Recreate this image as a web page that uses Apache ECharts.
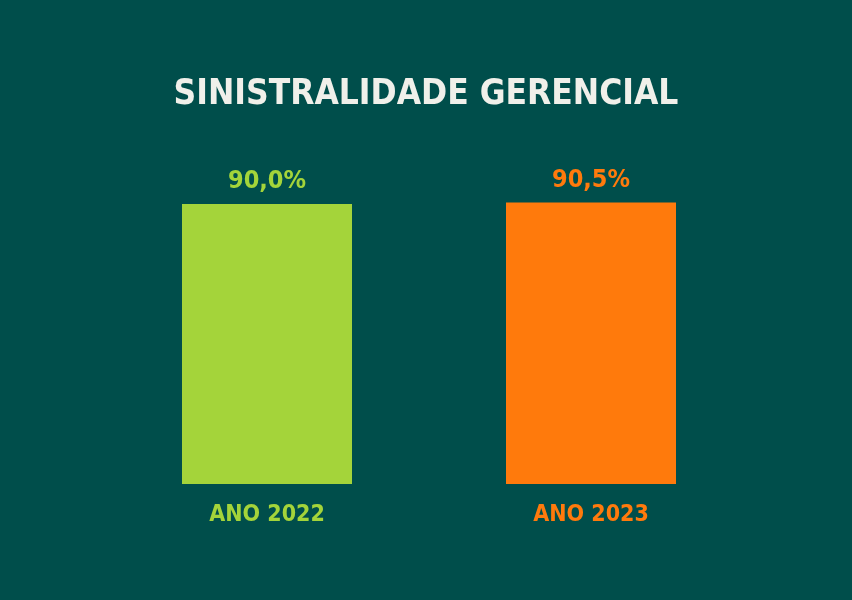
<!DOCTYPE html>
<html>
<head>
<meta charset="utf-8">
<script src="https://cdn.jsdelivr.net/npm/echarts@6/dist/echarts.min.js"></script>
<style>html,body{margin:0;padding:0;background:#004E4B;}#c{width:852px;height:600px;}</style>
</head>
<body>
<div id="c"></div>
<script>
const categories = ['ANO 2022', 'ANO 2023'];
const values = [90.0, 90.5];
const labels = ['90,0%', '90,5%'];
const colors = ['#A4D43A', '#FF7A0C'];
const titleText = 'SINISTRALIDADE GERENCIAL';

const FONT = '"DejaVu Sans Condensed", "Noto Sans", sans-serif';
const chart = echarts.init(document.getElementById('c'));
chart.setOption({
  backgroundColor: '#004E4B',
  title: {
    text: titleText,
    left: 'center',
    top: 72,
    textStyle: { color: '#F0F0EA', fontSize: 35, fontWeight: 'bold', fontFamily: FONT }
  },
  grid: { left: 105, right: 99, top: 173, bottom: 116 },
  xAxis: {
    type: 'category',
    data: categories.map((c, i) => ({ value: c, textStyle: { color: colors[i] } })),
    axisLine: { show: false },
    axisTick: { show: false },
    axisLabel: { margin: 20, fontSize: 23, fontWeight: 'bold', fontFamily: FONT }
  },
  yAxis: {
    type: 'value', min: 0, max: 100,
    show: false, splitLine: { show: false }
  },
  series: [{
    type: 'bar',
    barWidth: 170,
    data: values.map((v, i) => ({
      value: v,
      itemStyle: { color: colors[i] },
      label: { color: colors[i] }
    })),
    label: {
      show: true,
      position: 'top',
      distance: 10,
      fontSize: 25,
      fontWeight: 'bold',
      fontFamily: FONT,
      formatter: p => labels[p.dataIndex]
    }
  }]
});
</script>
</body>
</html>
